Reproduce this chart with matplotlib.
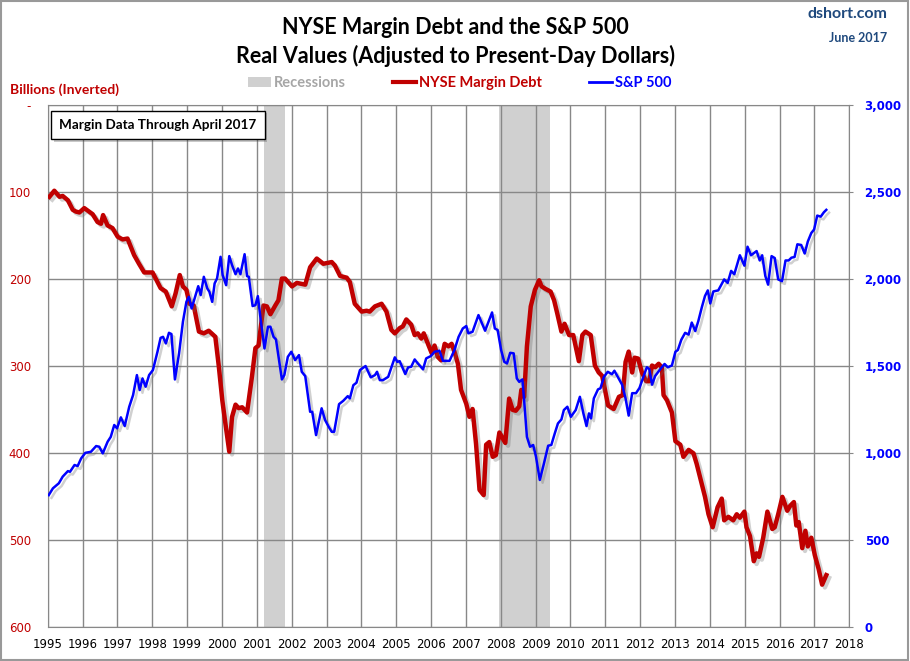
import matplotlib.pyplot as plt
import matplotlib.patheffects as pe
from matplotlib.patches import Patch, Rectangle
from matplotlib.lines import Line2D

# NYSE margin debt, real, billions
margin_years = [1995.05, 1995.19, 1995.34, 1995.43, 1995.58, 1995.72, 1995.81, 1995.91,
                1996.05, 1996.19, 1996.29, 1996.43, 1996.53, 1996.59, 1996.72, 1996.86,
                1997.01, 1997.15, 1997.29, 1997.48, 1997.62, 1997.77, 1998.01, 1998.24,
                1998.39, 1998.56, 1998.67, 1998.79, 1998.88, 1998.98, 1999.07, 1999.19,
                1999.34, 1999.48, 1999.62, 1999.81, 1999.91, 2000.01, 2000.10, 2000.21,
                2000.29, 2000.39, 2000.48, 2000.58, 2000.72, 2000.86, 2000.96, 2001.05,
                2001.19, 2001.29, 2001.39, 2001.53, 2001.62, 2001.72, 2001.81, 2002.01,
                2002.15, 2002.39, 2002.53, 2002.72, 2002.91, 2003.15, 2003.24, 2003.39,
                2003.58, 2003.67, 2003.81, 2004.01, 2004.15, 2004.24, 2004.39, 2004.58,
                2004.72, 2004.86, 2004.96, 2005.10, 2005.19, 2005.29, 2005.43, 2005.53,
                2005.62, 2005.72, 2005.79, 2005.91, 2006.02, 2006.10, 2006.19, 2006.29,
                2006.39, 2006.50, 2006.59, 2006.67, 2006.77, 2006.86, 2007.01, 2007.10,
                2007.19, 2007.29, 2007.39, 2007.51, 2007.58, 2007.67, 2007.77, 2007.86,
                2007.96, 2008.03, 2008.13, 2008.24, 2008.34, 2008.43, 2008.53, 2008.59,
                2008.67, 2008.75, 2008.86, 2008.98, 2009.10, 2009.17, 2009.29, 2009.43,
                2009.53, 2009.62, 2009.74, 2009.83, 2009.96, 2010.08, 2010.24, 2010.34,
                2010.43, 2010.58, 2010.70, 2010.81, 2010.91, 2011.01, 2011.08, 2011.24,
                2011.39, 2011.50, 2011.58, 2011.67, 2011.77, 2011.84, 2011.94, 2012.05,
                2012.17, 2012.26, 2012.34, 2012.43, 2012.53, 2012.62, 2012.67, 2012.77,
                2012.91, 2013.01, 2013.15, 2013.24, 2013.39, 2013.53, 2013.62, 2013.72,
                2013.86, 2013.96, 2014.08, 2014.22, 2014.34, 2014.41, 2014.53, 2014.67,
                2014.77, 2014.86, 2014.99, 2015.05, 2015.15, 2015.26, 2015.34, 2015.41,
                2015.53, 2015.65, 2015.79, 2015.86, 2015.96, 2016.08, 2016.22, 2016.31,
                2016.41, 2016.48, 2016.55, 2016.65, 2016.74, 2016.81, 2016.91, 2017.01,
                2017.12, 2017.22, 2017.34]
margin_debt = [105, 98, 105, 104, 109, 120, 122, 123,
               118, 122, 125, 134, 136, 126, 138, 141,
               151, 154, 153, 172, 182, 192, 192, 210,
               214, 231, 216, 195, 208, 212, 228, 230,
               260, 262, 259, 266, 300, 339, 366, 398,
               358, 344, 348, 347, 353, 312, 279, 276,
               230, 231, 240, 230, 224, 199, 199, 208,
               204, 206, 186, 176, 182, 180, 184, 196,
               198, 203, 228, 237, 236, 237, 231, 228,
               237, 258, 262, 256, 254, 246, 252, 264,
               262, 268, 262, 274, 285, 276, 289, 293,
               274, 277, 274, 283, 297, 327, 343, 358,
               349, 389, 442, 448, 390, 387, 404, 402,
               376, 381, 388, 337, 350, 351, 346, 327,
               335, 277, 231, 212, 201, 208, 211, 214,
               224, 239, 260, 251, 264, 264, 294, 264,
               260, 264, 299, 307, 311, 331, 345, 349,
               335, 333, 295, 283, 307, 290, 291, 307,
               317, 317, 299, 301, 297, 301, 333, 339,
               353, 386, 390, 404, 396, 400, 412, 428,
               450, 470, 485, 462, 452, 477, 473, 477,
               470, 474, 467, 485, 495, 524, 515, 519,
               497, 467, 487, 485, 470, 450, 466, 460,
               456, 483, 479, 509, 489, 507, 497, 517,
               533, 551, 540]

# S&P 500, real
spx_years = [1995.03, 1995.15, 1995.32, 1995.43, 1995.58, 1995.64, 1995.77, 1995.86,
             1995.96, 1996.08, 1996.24, 1996.39, 1996.48, 1996.58, 1996.72, 1996.81,
             1996.91, 1996.99, 1997.10, 1997.21, 1997.34, 1997.45, 1997.56, 1997.64,
             1997.72, 1997.81, 1997.91, 1998.02, 1998.15, 1998.24, 1998.31, 1998.39,
             1998.48, 1998.55, 1998.65, 1998.77, 1998.88, 1998.98, 1999.05, 1999.13,
             1999.32, 1999.39, 1999.48, 1999.58, 1999.64, 1999.72, 1999.79, 1999.86,
             1999.96, 2000.02, 2000.12, 2000.21, 2000.29, 2000.39, 2000.46, 2000.53,
             2000.65, 2000.72, 2000.77, 2000.88, 2000.96, 2001.03, 2001.13, 2001.22,
             2001.32, 2001.39, 2001.48, 2001.55, 2001.72, 2001.79, 2001.89, 2001.99,
             2002.10, 2002.21, 2002.29, 2002.39, 2002.53, 2002.59, 2002.70, 2002.86,
             2002.96, 2003.07, 2003.15, 2003.22, 2003.36, 2003.48, 2003.61, 2003.67,
             2003.77, 2003.86, 2003.96, 2004.12, 2004.27, 2004.39, 2004.45, 2004.53,
             2004.62, 2004.77, 2004.96, 2005.03, 2005.10, 2005.26, 2005.34, 2005.43,
             2005.53, 2005.62, 2005.77, 2005.86, 2005.99, 2006.10, 2006.24, 2006.34,
             2006.53, 2006.67, 2006.79, 2006.91, 2007.01, 2007.07, 2007.19, 2007.36,
             2007.55, 2007.75, 2007.83, 2007.91, 2008.01, 2008.10, 2008.18, 2008.27,
             2008.37, 2008.46, 2008.53, 2008.62, 2008.67, 2008.75, 2008.84, 2008.93,
             2009.01, 2009.12, 2009.24, 2009.36, 2009.45, 2009.55, 2009.64, 2009.74,
             2009.81, 2009.91, 2010.01, 2010.15, 2010.27, 2010.37, 2010.46, 2010.53,
             2010.59, 2010.67, 2010.79, 2010.86, 2010.96, 2011.07, 2011.19, 2011.26,
             2011.37, 2011.48, 2011.58, 2011.67, 2011.77, 2011.88, 2011.98, 2012.10,
             2012.19, 2012.26, 2012.34, 2012.43, 2012.58, 2012.70, 2012.79, 2012.91,
             2013.01, 2013.08, 2013.18, 2013.29, 2013.39, 2013.48, 2013.58, 2013.67,
             2013.77, 2013.86, 2013.94, 2014.01, 2014.10, 2014.24, 2014.41, 2014.51,
             2014.61, 2014.70, 2014.86, 2014.99, 2015.08, 2015.18, 2015.34, 2015.43,
             2015.50, 2015.59, 2015.67, 2015.77, 2015.86, 2015.96, 2016.07, 2016.17,
             2016.26, 2016.34, 2016.43, 2016.51, 2016.62, 2016.72, 2016.81, 2016.91,
             2016.99, 2017.08, 2017.18, 2017.27, 2017.34]
spx = [760, 799, 828, 866, 898, 894, 933, 927,
       971, 1003, 1009, 1042, 1038, 1000, 1067, 1095,
       1163, 1144, 1207, 1157, 1268, 1335, 1450, 1364,
       1431, 1383, 1450, 1479, 1584, 1664, 1670, 1632,
       1693, 1686, 1425, 1575, 1756, 1871, 1900, 1833,
       1961, 1910, 2015, 1948, 1929, 1871, 1977, 2006,
       2130, 2025, 1967, 2134, 2082, 2030, 2063, 2030,
       2145, 2019, 2015, 1847, 1852, 1904, 1737, 1603,
       1728, 1728, 1670, 1655, 1425, 1450, 1555, 1584,
       1536, 1565, 1469, 1444, 1239, 1239, 1105, 1259,
       1191, 1150, 1124, 1124, 1283, 1302, 1329, 1316,
       1392, 1406, 1479, 1502, 1437, 1450, 1469, 1421,
       1421, 1440, 1552, 1526, 1530, 1456, 1494, 1498,
       1540, 1517, 1483, 1546, 1559, 1584, 1590, 1532,
       1532, 1594, 1670, 1718, 1732, 1690, 1699, 1795,
       1705, 1810, 1718, 1709, 1594, 1526, 1517, 1578,
       1575, 1431, 1411, 1425, 1306, 1095, 1038, 1048,
       981, 847, 943, 1044, 1048, 1115, 1172, 1195,
       1249, 1268, 1210, 1249, 1325, 1230, 1157, 1230,
       1201, 1316, 1368, 1374, 1440, 1469, 1455, 1475,
       1435, 1395, 1316, 1217, 1346, 1346, 1376, 1445,
       1495, 1485, 1395, 1445, 1485, 1514, 1495, 1505,
       1584, 1594, 1653, 1693, 1683, 1752, 1703, 1762,
       1841, 1905, 1937, 1862, 1931, 1937, 2000, 1980,
       2049, 2030, 2139, 2079, 2188, 2139, 2163, 2109,
       2139, 2020, 1970, 2134, 2123, 2000, 1990, 2109,
       2109, 2125, 2129, 2202, 2198, 2149, 2218, 2267,
       2287, 2367, 2361, 2386, 2400]

recessions = [(2001.2, 2001.8), (2007.95, 2009.4)]

years = list(range(1995, 2019))
left_ticks = [0, 100, 200, 300, 400, 500, 600]
left_labels = ['-', '100', '200', '300', '400', '500', '600']
right_ticks = [0, 500, 1000, 1500, 2000, 2500, 3000]
right_labels = ['0', '500', '1,000', '1,500', '2,000', '2,500', '3,000']

RED = '#C00000'
BLUE = '#0000FF'
GRID = '#888888'

fig = plt.figure(figsize=(9.10, 6.61), dpi=100)
ax = fig.add_axes([0.0524, 0.051, 0.8809, 0.7894])

for a, b in recessions:
    ax.axvspan(a, b, color='#D0D0D0', lw=0, zorder=0)

ax.set_xlim(1995, 2018)
ax.set_ylim(600, 0)
ax.set_xticks(years)
ax.set_yticks(left_ticks)
ax.set_yticklabels(left_labels)
ax.grid(True, color=GRID, lw=1, zorder=1)
ax.set_axisbelow(True)
for s in ax.spines.values():
    s.set_color(GRID)
ax.tick_params(axis='x', length=0, labelsize=8.5, pad=8, colors='black')
ax.tick_params(axis='y', length=0, labelsize=8.5, pad=12, labelcolor=RED)

shadow = [pe.SimpleLineShadow(offset=(2, -2), shadow_color='#666666', alpha=0.3), pe.Normal()]
ax.plot(margin_years, margin_debt, color=RED, lw=3.2, zorder=3, path_effects=shadow,
        solid_joinstyle='round')

ax2 = ax.twinx()
ax2.set_ylim(0, 3000)
ax2.set_yticks(right_ticks)
ax2.set_yticklabels(right_labels)
ax2.tick_params(axis='y', length=3, color=GRID, labelsize=8.5, pad=8, labelcolor=BLUE)
for lab in ax2.get_yticklabels():
    lab.set_fontweight('bold')
for s in ax2.spines.values():
    s.set_visible(False)
ax2.plot(spx_years, spx, color=BLUE, lw=1.8, zorder=4, path_effects=shadow)

fig.text(0.5, 0.958, 'NYSE Margin Debt and the S&P 500', ha='center', va='center',
         fontsize=15.5, fontweight='bold', family='Lato')
fig.text(0.5, 0.916, 'Real Values (Adjusted to Present-Day Dollars)', ha='center', va='center',
         fontsize=15.5, fontweight='bold', family='Lato')
fig.text(0.975, 0.979, 'dshort.com', ha='right', va='center', fontsize=11.5,
         fontweight='bold', color='#1F497D', family='Lato')
fig.text(0.975, 0.943, 'June 2017', ha='right', va='center', fontsize=9,
         color='#1F497D', family='Lato', fontweight='bold')
fig.text(0.011, 0.865, 'Billions (Inverted)', ha='left', va='center', fontsize=10,
         color=RED, family='Lato', fontweight='bold')

handles = [Patch(facecolor='#D0D0D0', edgecolor='none'),
           Line2D([], [], color=RED, lw=3),
           Line2D([], [], color=BLUE, lw=2)]
fig.legend(handles, ['Recessions', 'NYSE Margin Debt', 'S&P 500'], ncol=3,
           loc='center', bbox_to_anchor=(0.505, 0.874), frameon=False,
           labelcolor=['#A6A6A6', RED, BLUE], handlelength=1.6, handletextpad=0.2,
           columnspacing=3.2, prop={'family': 'Lato', 'weight': 'bold', 'size': 10.5})

ax.text(0.0145, 0.963, 'Margin Data Through April 2017', transform=ax.transAxes,
        ha='left', va='center', fontsize=9.7, fontweight='bold', family='Lato', zorder=6,
        bbox=dict(boxstyle='square,pad=0.6', facecolor='white', edgecolor='black', lw=1,
                  path_effects=[pe.SimplePatchShadow(offset=(2, -2), alpha=0.3), pe.Normal()]))

fig.patches.append(Rectangle((0.001, 0.002), 0.997, 0.996, transform=fig.transFigure,
                             fill=False, edgecolor='#999999', lw=1.5))

fig.savefig('out.png', dpi=100)
